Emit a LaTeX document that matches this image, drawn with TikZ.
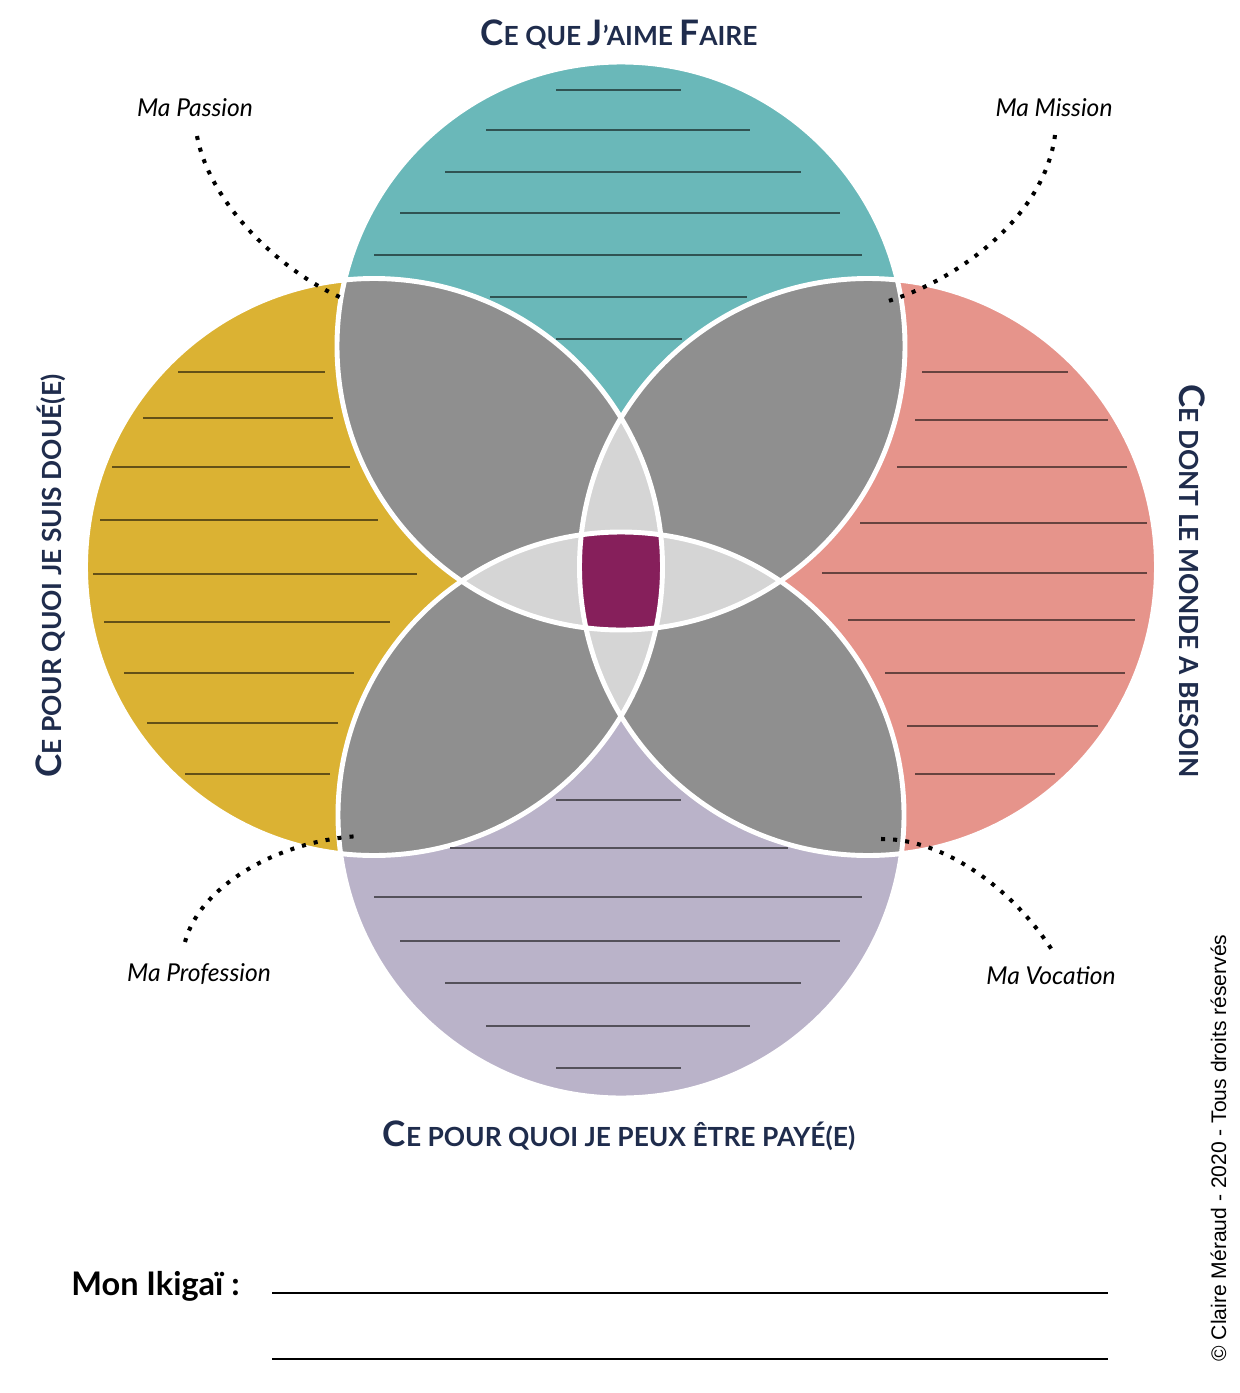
\documentclass[tikz,border=0pt]{standalone}
\usepackage{fontspec}
\setmainfont{Lato}
\newfontfamily\arialfont{Liberation Sans}
\usepackage{tikz}

\definecolor{ikTeal}{HTML}{6AB8B9}
\definecolor{ikGold}{HTML}{DBB233}
\definecolor{ikRose}{HTML}{E6948B}
\definecolor{ikLilac}{HTML}{BAB3C9}
\definecolor{ikGray}{HTML}{8F8F8F}
\definecolor{ikLight}{HTML}{D5D5D5}
\definecolor{ikPlum}{HTML}{861F5B}
\definecolor{ikNavy}{HTML}{1F2C4C}

\newcommand{\bigLetter}[1]{{\fontsize{20}{20}\selectfont #1}}
\def\circLove{(621,346) circle[radius=284]}
\def\circPaid{(621,815) circle[radius=283]}
\def\circGood{(374,567) circle[radius=288.5]}
\def\circWorld{(868,567) circle[radius=288.5]}

\begin{document}
\begin{tikzpicture}[x=0.02cm, y=-0.02cm,
  ring/.style={draw=white, line width=2.8pt},
  wline/.style={draw=#1!45!black, line width=0.6pt},
  title/.style={font=\bfseries\fontsize{15}{16}\selectfont, text=ikNavy, inner sep=0pt},
  tag/.style={font=\itshape\fontsize{14}{15}\selectfont, inner sep=0pt, anchor=base},
  dotpath/.style={line width=2.3pt, dash pattern=on 2.3pt off 4.6pt},
  answer/.style={line width=1.4pt}]
  \useasboundingbox (0,0) rectangle (1240,1393);

  % the four circles
  \fill[ikTeal] \circLove; \fill[ikLilac] \circPaid;
  \fill[ikGold] \circGood; \fill[ikRose] \circWorld;
  % two circles
  \begin{scope} \clip \circLove; \fill[ikGray] \circGood; \fill[ikGray] \circWorld; \end{scope}
  \begin{scope} \clip \circPaid; \fill[ikGray] \circGood; \fill[ikGray] \circWorld; \end{scope}
  % three circles
  \begin{scope} \clip \circLove; \fill[ikLight] \circPaid; \end{scope}
  \begin{scope} \clip \circGood; \fill[ikLight] \circWorld; \end{scope}
  % all four
  \begin{scope} \clip \circLove; \clip \circPaid; \clip \circGood; \fill[ikPlum] \circWorld; \end{scope}
  \draw[ring] \circLove; \draw[ring] \circPaid; \draw[ring] \circGood; \draw[ring] \circWorld;

  % writing lines
  \foreach \y/\a/\b in {90/556/681, 130/486/750, 172/445/801, 213/400/840,
      255/374/862, 297/490/747, 339/556/682}
    \draw[wline=ikTeal] (\a,\y) -- (\b,\y);
  \foreach \y/\a/\b in {800/556/681, 848/450/788, 897/374/862, 941/400/840,
      983/445/801, 1026/486/750, 1068/556/681}
    \draw[wline=ikLilac] (\a,\y) -- (\b,\y);
  \foreach \y/\a/\b in {372/178/325, 418/143/333, 467/112/350, 520/100/378,
      574/93/417, 622/104/390, 673/124/354, 723/147/338, 774/185/330}
    \draw[wline=ikGold] (\a,\y) -- (\b,\y);
  \foreach \y/\a/\b in {372/922/1068, 420/915/1108, 467/897/1127, 523/860/1147,
      573/822/1147, 620/848/1135, 673/885/1125, 726/907/1098, 774/915/1055}
    \draw[wline=ikRose] (\a,\y) -- (\b,\y);

  % titles
  \node[title, anchor=base] (love) at (619,45)
    {\bigLetter{C}E QUE \bigLetter{J}’AIME \bigLetter{F}AIRE};
  \node[title, anchor=base] (paid) at (619,1146)
    {\bigLetter{C}E POUR QUOI JE PEUX ÊTRE PAYÉ(E)};
  \node[title, anchor=base, rotate=90] (good) at (61,576)
    {\bigLetter{C}E POUR QUOI JE SUIS DOUÉ(E)};
  \node[title, anchor=base, rotate=-90] (world) at (1179,581)
    {\bigLetter{C}E DONT LE MONDE A BESOIN};

  % the four names
  \node[tag] (passion) at (195,116) {Ma Passion};
  \node[tag] (mission) at (1054,116) {Ma Mission};
  \node[tag] (profession) at (199,981) {Ma Profession};
  \node[tag] (vocation) at (1051,984) {Ma Vocation};
  \coordinate (passionA) at (197,136);  \coordinate (passionB) at (342,298);
  \coordinate (missionA) at (1055,135); \coordinate (missionB) at (885,302);
  \coordinate (professionA) at (185,942); \coordinate (professionB) at (360,836);
  \coordinate (vocationA) at (881,839); \coordinate (vocationB) at (1052,950);
  \draw[dotpath] (passionA) .. controls (210,205) and (282,272) .. (passionB);
  \draw[dotpath] (missionA) .. controls (1045,215) and (960,280) .. (missionB);
  \draw[dotpath] (professionA) .. controls (200,885) and (280,840) .. (professionB);
  \draw[dotpath] (vocationA) .. controls (940,838) and (1010,885) .. (vocationB);

  % bottom
  \node[anchor=base west, inner sep=0pt, font=\bfseries\fontsize{18.5}{19}\selectfont]
    (ikigai) at (71,1295) {Mon Ikigaï :};
  \draw[answer] (272,1293) -- (1108,1293);
  \draw[answer] (272,1359) -- (1108,1359);
  \node[anchor=base, rotate=90, inner sep=0pt, font=\arialfont\fontsize{12}{12}\selectfont]
    (rights) at (1226,1148) {© Claire Méraud - 2020 - Tous droits réservés};
\end{tikzpicture}
\end{document}
